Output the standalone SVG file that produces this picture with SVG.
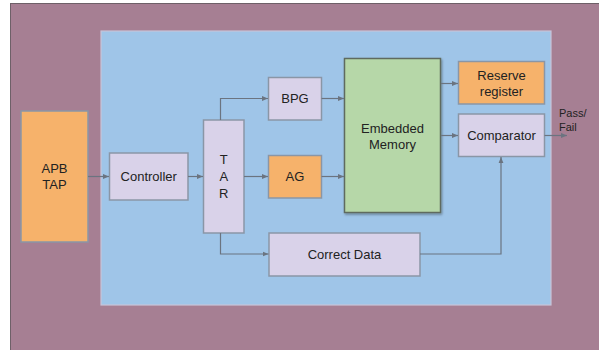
<svg xmlns="http://www.w3.org/2000/svg" width="599" height="350" viewBox="0 0 599 350">
<defs>
<style>
.box{stroke:#8a96a6;stroke-width:1.5}
.lav{fill:#d9d2e9}
.org{fill:#f6b26b}
.grn{fill:#b6d7a8;stroke:#5f6b5f;stroke-width:1.5}
text{font-family:"Liberation Sans",Arial,sans-serif;font-size:13px;fill:#222;text-anchor:middle}
.con{fill:none;stroke:#6b7480;stroke-width:1.2;marker-end:url(#ah)}
</style>
<marker id="ah" viewBox="0 0 10 10" refX="10" refY="5" markerWidth="6" markerHeight="6" markerUnits="userSpaceOnUse" orient="auto">
<path d="M0,1 L10,5 L0,9 z" fill="#6b7480"/>
</marker>
<filter id="sh" x="-10%" y="-10%" width="130%" height="130%">
<feDropShadow dx="1" dy="1.5" stdDeviation="1" flood-color="#000" flood-opacity="0.35"/>
</filter>
</defs>
<rect width="599" height="350" fill="#ffffff"/>
<rect x="10.5" y="3.5" width="600" height="360" fill="#a67f93" stroke="#6e6068" stroke-width="1"/>
<rect x="101" y="31" width="450" height="274" fill="#9fc5e8" stroke="#c8c3d8" stroke-width="1.2"/>

<g id="apb-tap">
<rect class="box org" x="21" y="111" width="67" height="131"/>
<text x="54.5" y="173">APB</text>
<text x="54.5" y="189">TAP</text>
</g>
<g id="controller">
<rect class="box lav" x="109.5" y="153" width="78.5" height="47"/>
<text x="148.75" y="181">Controller</text>
</g>
<g id="tar">
<rect class="box lav" x="203.5" y="120" width="40.5" height="113"/>
<text x="223.75" y="164">T</text>
<text x="223.75" y="181">A</text>
<text x="223.75" y="198">R</text>
</g>
<g id="bpg">
<rect class="box lav" x="268.5" y="77.5" width="53" height="42.5"/>
<text x="295" y="103">BPG</text>
</g>
<g id="ag">
<rect class="box org" x="268.5" y="155.5" width="53" height="42.5"/>
<text x="295" y="181">AG</text>
</g>
<g id="embedded-memory">
<rect class="grn" x="344.5" y="58.5" width="96" height="154" filter="url(#sh)"/>
<text x="392.5" y="133">Embedded</text>
<text x="392.5" y="148.5">Memory</text>
</g>
<g id="reserve-register">
<rect class="box org" x="458.5" y="61.5" width="86" height="42.5"/>
<text x="501.5" y="80">Reserve</text>
<text x="501.5" y="96">register</text>
</g>
<g id="comparator">
<rect class="box lav" x="458.5" y="114" width="86" height="42.5"/>
<text x="501.5" y="140">Comparator</text>
</g>
<g id="correct-data">
<rect class="box lav" x="269" y="233" width="151" height="43"/>
<text x="344.5" y="259">Correct Data</text>
</g>
<g id="pass-fail">
<text x="559" y="117" style="font-size:11px;text-anchor:start">Pass/</text>
<text x="559" y="131" style="font-size:11px;text-anchor:start">Fail</text>
</g>

<g id="connectors">
<path class="con" d="M88,176.5 H109"/>
<path class="con" d="M188,176.5 H203"/>
<path class="con" d="M220.5,120 V98.5 H268"/>
<path class="con" d="M244,176.5 H268"/>
<path class="con" d="M220.5,233 V254 H268.5"/>
<path class="con" d="M321.5,98.5 H344"/>
<path class="con" d="M321.5,176.5 H344"/>
<path class="con" d="M441,83.5 H458"/>
<path class="con" d="M441,135.5 H458"/>
<path class="con" d="M420,254 H501 V157"/>
<path class="con" d="M544.5,135.5 H567"/>
</g>
</svg>
